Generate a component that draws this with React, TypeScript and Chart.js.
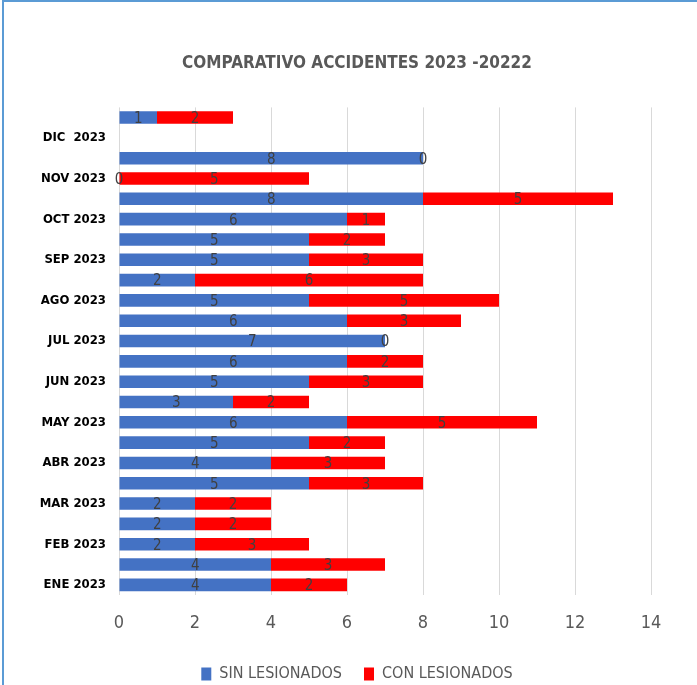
import React, { useEffect, useRef } from "react";
import { Chart, registerables } from "chart.js";

Chart.register(...registerables);

const categories: string[] = [
  "ENE 2023", "", "FEB 2023", "", "MAR 2023", "", "ABR 2023", "", "MAY 2023", "", "JUN 2023", "",
  "JUL 2023", "", "AGO 2023", "", "SEP 2023", "", "OCT 2023", "", "NOV 2023", "", "DIC  2023", "",
];
const sinLesionados: (number | null)[] = [4, 4, 2, 2, 2, 5, 4, 5, 6, 3, 5, 6, 7, 6, 5, 2, 5, 5, 6, 8, 0, 8, null, 1];
const conLesionados: (number | null)[] = [2, 3, 3, 2, 2, 3, 3, 2, 5, 2, 3, 2, 0, 3, 5, 6, 3, 2, 1, 5, 5, 0, null, 2];
const xTicks: number[] = [0, 2, 4, 6, 8, 10, 12, 14];

const TITLE = "COMPARATIVO ACCIDENTES 2023 -20222";
const NARROW = "'DejaVu Sans Condensed', 'Roboto', sans-serif";

const dataLabels = {
  id: "dataLabels",
  afterDatasetsDraw(chart: any) {
    const ctx = chart.ctx;
    ctx.save();
    ctx.font = `15px ${NARROW}`;
    ctx.fillStyle = "#404040";
    ctx.textAlign = "center";
    ctx.textBaseline = "middle";
    chart.data.datasets.forEach((ds: any, di: number) => {
      const meta = chart.getDatasetMeta(di);
      meta.data.forEach((el: any, i: number) => {
        const v = ds.data[i];
        if (v === null || v === undefined) return;
        const cx = (el.x + el.base) / 2;
        ctx.fillText(String(v), cx, el.y + 1.5);
      });
    });
    ctx.restore();
  },
};

export default function App() {
  const ref = useRef<HTMLCanvasElement | null>(null);
  useEffect(() => {
    if (!ref.current) return;
    const chart = new Chart(ref.current, {
      type: "bar",
      data: {
        labels: categories,
        datasets: [
          { label: "SIN LESIONADOS", data: sinLesionados, backgroundColor: "#4472C4", borderWidth: 0, barPercentage: 0.62, categoryPercentage: 1 },
          { label: "CON LESIONADOS", data: conLesionados, backgroundColor: "#FF0000", borderWidth: 0, barPercentage: 0.62, categoryPercentage: 1 },
        ],
      },
      options: {
        indexAxis: "y",
        animation: false,
        responsive: false,
        maintainAspectRatio: false,
        layout: { padding: { left: 17, right: 0, top: 0, bottom: -7 } },
        scales: {
          x: {
            stacked: true,
            min: 0,
            max: 14,
            afterBuildTicks: (scale: any) => {
              scale.ticks = xTicks.map((v) => ({ value: v }));
            },
            afterFit: (scale: any) => {
              scale.height = 49;
            },
            grid: { color: "#d9d9d9", lineWidth: 1, drawTicks: false },
            border: { display: false },
            ticks: { color: "#595959", font: { family: NARROW, size: 18 }, padding: 18 },
          },
          y: {
            stacked: true,
            reverse: true,
            afterFit: (scale: any) => {
              scale.width = 102;
            },
            grid: { display: false, drawTicks: false },
            border: { display: false },
            ticks: { autoSkip: false, color: "#000000", font: { family: NARROW, size: 13, weight: "bold" }, padding: 13 },
          },
          yRight: {
            type: "linear",
            position: "right",
            display: true,
            afterFit: (scale: any) => {
              scale.width = 46;
            },
            grid: { display: false, drawTicks: false },
            border: { display: false },
            ticks: { display: false },
          },
        },
        plugins: {
          title: {
            display: true,
            text: TITLE,
            color: "#595959",
            font: { family: NARROW, size: 17, weight: "bold" },
            padding: { top: 53, bottom: 34 },
          },
          legend: {
            position: "bottom",
            labels: {
              color: "#595959",
              font: { family: NARROW, size: 16 },
              boxWidth: 10,
              boxHeight: 13,
              padding: 22,
            },
          },
          tooltip: { enabled: false },
        },
      },
      plugins: [dataLabels],
    } as any);
    return () => chart.destroy();
  }, []);

  return (
    <div style={{ position: "fixed", left: 0, top: 0, width: 697, height: 685, overflow: "hidden", background: "#ffffff" }}>
      <canvas ref={ref} width={697} height={685} style={{ position: "absolute", left: 0, top: 0, width: 697, height: 685 }} />
      <div
        style={{
          position: "absolute",
          left: 2,
          top: 0,
          width: 720,
          height: 720,
          borderLeft: "2px solid #5B9BD5",
          borderTop: "2px solid #5B9BD5",
          pointerEvents: "none",
        }}
      />
    </div>
  );
}
